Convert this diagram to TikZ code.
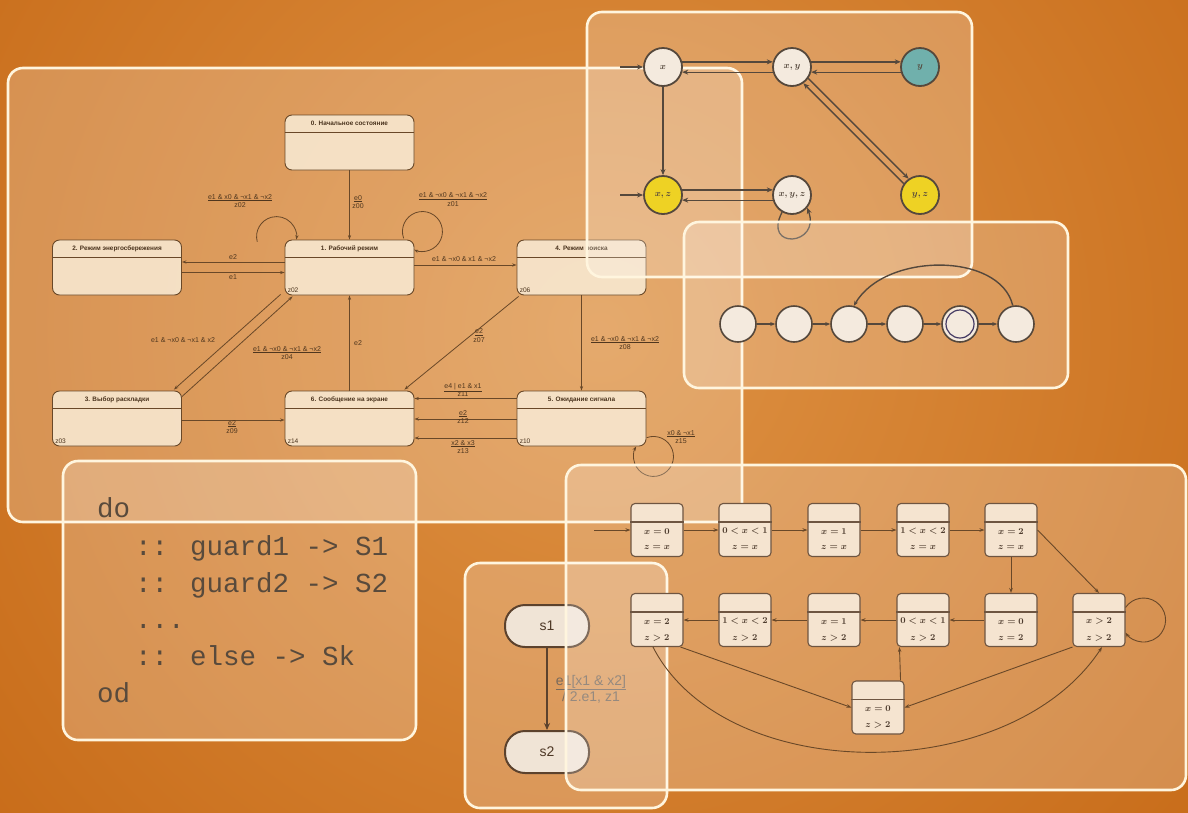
\documentclass[tikz,border=0pt]{standalone}
\usepackage{fontspec}
\newfontfamily\sansf{Liberation Sans}
\newfontfamily\monof{Liberation Mono}
\usetikzlibrary{calc,arrows.meta}

\definecolor{bgin}{RGB}{222,146,68}
\definecolor{bgout}{RGB}{194,98,14}
\definecolor{pline}{RGB}{255,245,222}
\definecolor{ink}{RGB}{105,72,40}
\definecolor{stfill}{RGB}{247,230,205}
\definecolor{cfill}{RGB}{244,234,222}
\definecolor{cring}{RGB}{85,72,60}
\definecolor{tealc}{RGB}{112,176,172}
\definecolor{yelc}{RGB}{238,210,36}
\definecolor{tfill}{RGB}{245,228,208}
\definecolor{tink}{RGB}{110,85,65}
\definecolor{codeink}{RGB}{88,74,60}
\definecolor{sfill}{RGB}{240,228,214}
\definecolor{sink}{RGB}{92,66,45}
\definecolor{slab}{RGB}{120,105,92}

% state box with a title strip and an output label in the lower left corner
\newcommand\stbx[5]{%
  \node[stbox] (#1) at (#2,#3) {};
  \draw[stsep] ($(#1.north west)+(0,18)$) -- ($(#1.north east)+(0,18)$);
  \node[sttitle] at ($(#1.north)+(0,9)$) {#4};
  \node[stz,anchor=south west] at ($(#1.south west)+(3,-3)$) {#5};
}
% region box of the timed automaton: empty strip, two constraint lines
\newcommand\tst[5]{%
  \node[tbox] (#1) at (#2,#3) {};
  \draw[tsep] ($(#1.north west)+(0,19)$) -- ($(#1.north east)+(0,19)$);
  \node[ttext] at ($(#1.north)+(0,28.5)$) {#4};
  \node[ttext] at ($(#1.north)+(0,45)$) {#5};
}

\begin{document}
\begin{tikzpicture}[x=1pt,y=-1pt,
  panel/.style={draw=pline,line width=2.6pt,rounded corners=15pt,fill=white,fill opacity=0.22},
  stbox/.style={draw=ink,line width=0.9pt,fill=stfill,fill opacity=0.92,rounded corners=7pt,
    minimum width=129pt,minimum height=55pt,inner sep=0pt},
  stsep/.style={draw=ink,line width=0.9pt},
  sttitle/.style={font=\sansf\bfseries\fontsize{6.4}{7}\selectfont,text=ink!70!black,inner sep=0pt},
  stz/.style={font=\sansf\fontsize{6.6}{7}\selectfont,text=ink!70!black,inner sep=0pt},
  sarr/.style={draw=ink,line width=0.8pt,-{Stealth[length=4.5pt,width=3.2pt]}},
  lab/.style={font=\sansf\fontsize{7}{8.5}\selectfont,align=center,inner sep=0pt,text=ink!75!black},
  cnode/.style={circle,draw=cring,line width=1.8pt,fill=cfill,minimum size=38pt,inner sep=0pt,
    font=\fontsize{9}{10}\selectfont\boldmath,text=cring},
  parr/.style={draw=cring,line width=1.3pt,-{Stealth[length=6pt,width=5pt]}},
  chnode/.style={circle,draw=cring,line width=1.6pt,fill=cfill,minimum size=36pt,inner sep=0pt},
  charr/.style={draw=cring,line width=1.4pt,-{Stealth[length=5pt,width=4pt]}},
  tbox/.style={draw=tink,line width=1.1pt,fill=tfill,rounded corners=4pt,minimum width=52pt,
    minimum height=53pt,inner sep=0pt},
  tsep/.style={draw=tink,line width=1.1pt},
  ttext/.style={font=\fontsize{9}{10}\selectfont\boldmath,text=tink!70!black,inner sep=0pt},
  tarr/.style={draw=ink,line width=0.9pt,-{Stealth[length=5pt,width=3.6pt]}},
  code/.style={font=\monof\fontsize{27.5}{30}\selectfont,text=codeink,inner sep=0pt,anchor=base west},
  snode/.style={draw=sink,line width=2pt,fill=sfill,rounded corners=20pt,minimum width=84pt,
    minimum height=42pt,font=\sansf\fontsize{14}{16}\selectfont,text=sink!85!black},
  sarrow/.style={draw=sink,line width=2pt,-{Stealth[length=7pt,width=6pt]}}
]
\useasboundingbox (0,0) rectangle (1188,812);

% ---------- background ----------
\begin{scope}
  \clip (0,0) rectangle (1188,812);
  \fill[bgout] (0,0) rectangle (1188,812);
  \shade[inner color=bgin,outer color=bgout] (600,330) circle (1000);
\end{scope}

% ---------- keyboard controller state chart ----------
\draw[panel] (8,68) rectangle (742,522);

\stbx{s0}{349.5}{142.5}{0. Начальное состояние}{}
\stbx{s1}{349.5}{267.5}{1. Рабочий режим}{z02}
\stbx{s2}{117}{267.5}{2. Режим энергосбережения}{}
\stbx{s3}{117}{418.5}{3. Выбор раскладки}{z03}
\stbx{s4}{581.5}{267.5}{4. Режим поиска}{z06}
\stbx{s5}{581.5}{418.5}{5. Ожидание сигнала}{z10}
\stbx{s6}{349.5}{418.5}{6. Сообщение на экране}{z14}

\draw[sarr] (s0) -- (s1);
\draw[sarr] ($(s1.north west)+(-27.3,2.2)$) arc[start angle=165,end angle=368.6,radius=20];
\draw[sarr] ($(s1.north east)+(-10.8,-1.2)$) arc[start angle=160,end angle=475,radius=20];
\draw[sarr] ($(s1.west)+(0,-5.5)$) -- ($(s2.east)+(0,-5.5)$);
\draw[sarr] ($(s2.east)+(0,5)$) -- ($(s1.west)+(0,5)$);
\draw[sarr] ($(s1.east)+(0,-2.5)$) -- ($(s4.west)+(0,-2.5)$);
\draw[sarr] ($(s1.south west)+(-4,-1)$) -- ($(s3.north east)+(-8,-1)$);
\draw[sarr] ($(s3.north east)+(0,6)$) -- ($(s1.south west)+(8,1)$);
\draw[sarr] (s6) -- (s1);
\draw[sarr] ($(s4.south west)+(2,1)$) -- ($(s6.north east)+(-10,-1)$);
\draw[sarr] (s4) -- (s5);
\draw[sarr] ($(s3.east)+(0,1.5)$) -- ($(s6.west)+(0,1.5)$);
\draw[sarr] ($(s5.west)+(0,-20)$) -- ($(s6.east)+(0,-20)$);
\draw[sarr] ($(s5.west)+(0,0.5)$) -- ($(s6.east)+(0,0.5)$);
\draw[sarr] ($(s5.west)+(0,19.5)$) -- ($(s6.east)+(0,19.5)$);
\draw[sarr] ($(s5.south east)+(0.2,-8.8)$) arc[start angle=-110,end angle=210,radius=20];

\node[lab] (l01) at (358,202) {\underline{e0}\\z00};
\node[lab] (l11a) at (240,201) {\underline{e1 \& x0 \& ¬x1 \& ¬x2}\\z02};
\node[lab] (l11b) at (453,199.5) {\underline{e1 \& ¬x0 \& ¬x1 \& ¬x2}\\z01};
\node[lab] (l12) at (233,257) {e2};
\node[lab] (l21) at (233,277) {e1};
\node[lab] (l14) at (464,259.5) {e1 \& ¬x0 \& x1 \& ¬x2};
\node[lab] (l13) at (183,340) {e1 \& ¬x0 \& ¬x1 \& x2};
\node[lab] (l31) at (287,353) {\underline{e1 \& ¬x0 \& ¬x1 \& ¬x2}\\z04};
\node[lab] (l61) at (358,343) {e2};
\node[lab] (l46) at (479,335.5) {\underline{e2}\\z07};
\node[lab] (l45) at (625,343) {\underline{e1 \& ¬x0 \& ¬x1 \& ¬x2}\\z08};
\node[lab] (l36) at (232,427) {\underline{e2}\\z09};
\node[lab] (l56a) at (463,390) {\underline{e4 | e1 \& x1}\\z11};
\node[lab] (l56b) at (463,417) {\underline{e2}\\z12};
\node[lab] (l56c) at (463,447) {\underline{x2 \& x3}\\z13};
\node[lab] (l55) at (681,437) {\underline{x0 \& ¬x1}\\z15};

% ---------- Promela do-loop ----------
\draw[panel] (63,461) rectangle (416,740);
\node[code] (k1) at (97,517) {do};
\node[code] (k2) at (135,555) {:: guard1 -> S1};
\node[code] (k3) at (135,592) {:: guard2 -> S2};
\node[code] (k4) at (135,628) {...};
\node[code] (k5) at (135,665) {:: else -> Sk};
\node[code] (k6) at (97,702) {od};

% ---------- subset graph ----------
\draw[panel] (587,12) rectangle (972,277);
\node[cnode] (nx) at (663,67) {$x$};
\node[cnode] (nxy) at (792,67) {$x,y$};
\node[cnode,fill=tealc] (ny) at (920,67) {$y$};
\node[cnode,fill=yelc] (nxz) at (663,195) {$x,z$};
\node[cnode] (nxyz) at (792,195) {$x,y,z$};
\node[cnode,fill=yelc] (nyz) at (920,195) {$y,z$};
\coordinate (ix) at (620,67);
\coordinate (ixz) at (620,195);
\draw[parr] (ix) -- (nx);
\draw[parr] (ixz) -- (nxz);
\draw[parr] (nx.15) -- (nxy.165);
\draw[parr] (nxy.-165) -- (nx.-15);
\draw[parr] (nxy.15) -- (ny.165);
\draw[parr] (ny.-165) -- (nxy.-15);
\draw[parr] (nx) -- (nxz);
\draw[parr] (nxz.15) -- (nxyz.165);
\draw[parr] (nxyz.-165) -- (nxz.-15);
\draw[parr] (nxy.-35) -- (nyz.125);
\draw[parr] (nyz.145) -- (nxy.-55);
\draw[parr] (nxyz.-120) .. controls +(-20,38) and +(14,38) .. (nxyz.-40);

% ---------- chain automaton ----------
\draw[panel] (684,222) rectangle (1068,388);
\foreach \i/\xx in {1/738,2/794,3/849,4/905,5/960,6/1016}
  \node[chnode] (c\i) at (\xx,324) {};
\node[circle,draw=cring!80!blue,line width=1.2pt,minimum size=28pt,inner sep=0pt] (c5in) at (c5) {};
\foreach \a/\b in {1/2,2/3,3/4,4/5,5/6}
  \draw[charr] (c\a) -- (c\b);
\draw[charr] (c6.100) .. controls (1000,252) and (885,252) .. (c3.75);

% ---------- two-state chart ----------
\draw[panel] (465,563) rectangle (667,808);
\node[snode] (p1) at (547,626) {s1};
\node[snode] (p2) at (547,752) {s2};
\draw[sarrow] (p1) -- (p2);
\node[font=\sansf\fontsize{14}{16}\selectfont,text=slab,align=center,inner sep=0pt] (ptr) at (591,689)
  {\underline{e1[x1 \& x2]}\\/ 2.e1, z1};

% ---------- region automaton ----------
\draw[panel] (566,465) rectangle (1186,790);
\tst{a1}{657}{530}{$x=0$}{$z=x$}
\tst{a2}{745}{530}{$0<x<1$}{$z=x$}
\tst{a3}{834}{530}{$x=1$}{$z=x$}
\tst{a4}{923}{530}{$1<x<2$}{$z=x$}
\tst{a5}{1011}{530}{$x=2$}{$z=x$}
\tst{b1}{657}{620}{$x=2$}{$z>2$}
\tst{b2}{745}{620}{$1<x<2$}{$z>2$}
\tst{b3}{834}{620}{$x=1$}{$z>2$}
\tst{b4}{923}{620}{$0<x<1$}{$z>2$}
\tst{b5}{1011}{620}{$x=0$}{$z=2$}
\tst{b6}{1099}{620}{$x>2$}{$z>2$}
\tst{bb}{878}{707.5}{$x=0$}{$z>2$}

\coordinate (tin) at (594,530);
\draw[tarr] (tin) -- (a1);
\draw[tarr] (a1) -- (a2);
\draw[tarr] (a2) -- (a3);
\draw[tarr] (a3) -- (a4);
\draw[tarr] (a4) -- (a5);
\draw[tarr] (a5) -- (b5);
\draw[tarr] (a5.east) -- (b6.north);
\draw[tarr] (b5) -- (b4);
\draw[tarr] (b4) -- (b3);
\draw[tarr] (b3) -- (b2);
\draw[tarr] (b2) -- (b1);
\draw[tarr] ($(b6.east)+(0,-12.6)$) arc[start angle=215,end angle=505,radius=22];
\draw[tarr] ($(bb.north east)+(-4,0)$) -- ($(b4.south west)+(3,0)$);
\draw[tarr] (b6.south west) -- (bb.east);
\draw[tarr] ($(b1.south east)+(-3,0)$) -- (bb.west);
\draw[tarr] ($(b1.south)+(-4,0)$) .. controls (725,787) and (1010,787) .. ($(b6.south)+(3,0)$);
\end{tikzpicture}
\end{document}
